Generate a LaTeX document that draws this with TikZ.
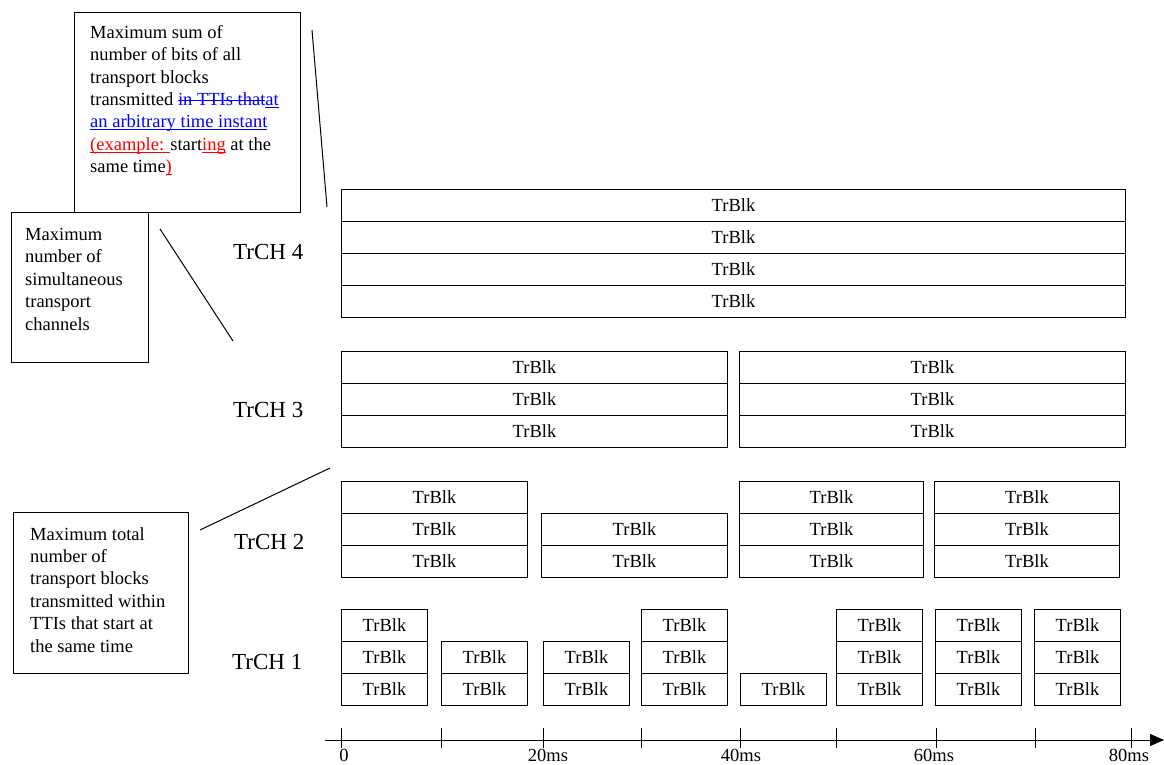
\documentclass[tikz,border=0pt]{standalone}
\usepackage{fontspec}
\setmainfont{Liberation Serif}
\usetikzlibrary{arrows.meta}
\newsavebox{\markbox}
\newcommand{\myul}[1]{\sbox{\markbox}{#1}\rlap{\usebox{\markbox}}\rule[-0.13em]{\wd\markbox}{0.06em}}
\newcommand{\mysout}[1]{\sbox{\markbox}{#1}\rlap{\usebox{\markbox}}\rule[0.26em]{\wd\markbox}{0.06em}}
\tikzset{
  blk/.style={draw, line width=1pt, anchor=north west, minimum height=32pt, inner sep=0pt, font=\fontsize{18.5}{22}\selectfont},
  callbox/.style={draw, line width=1pt, anchor=north west, inner sep=0pt},
  calltext/.style={anchor=north west, align=left, inner sep=0pt, font=\fontsize{18.5}{22.4}\selectfont},
  chlabel/.style={anchor=west, inner sep=0pt, font=\fontsize{23}{26}\selectfont},
  axlabel/.style={inner sep=0pt, font=\fontsize{18.5}{22}\selectfont},
  leader/.style={line width=1pt},
  tickmark/.style={line width=1pt},
}
\newcommand{\blkgroup}[5]{%
  \foreach \r in {1,...,#5}{%
    \node[blk, minimum width=#4pt] (#1-\r) at ({#2},{#3+32*(\r-1)}) {TrBlk};
  }%
}
\begin{document}
\begin{tikzpicture}[x=1pt,y=-1pt]
\useasboundingbox (0,0) rectangle (1164,765);

% callouts
\node[callbox, minimum width=226pt, minimum height=200pt] (c1) at (74,12) {};
\node[calltext] (c1t) at (90,25) {Maximum sum of\\
number of bits of all\\
transport blocks\\
transmitted \textcolor{blue}{\mysout{in TTIs that}\myul{at}}\\
\textcolor{blue}{\myul{an arbitrary time instant}}\\
\textcolor{red}{\myul{(example: }}start\textcolor{red}{\myul{ing}} at the\\
same time\textcolor{red}{\myul{)}}};

\node[callbox, minimum width=137pt, minimum height=150pt] (c2) at (11,212) {};
\node[calltext] (c2t) at (25,228) {Maximum\\
number of\\
simultaneous\\
transport\\
channels};

\node[callbox, minimum width=175pt, minimum height=161pt] (c3) at (13,512) {};
\node[calltext] (c3t) at (30,527) {Maximum total\\
number of\\
transport blocks\\
transmitted within\\
TTIs that start at\\
the same time};

% leader lines
\coordinate (l1a) at (312,30);  \coordinate (l1b) at (327,207);
\coordinate (l2a) at (160,229); \coordinate (l2b) at (233,341);
\coordinate (l3a) at (200,530); \coordinate (l3b) at (330,468);
\draw[leader] (l1a) -- (l1b);
\draw[leader] (l2a) -- (l2b);
\draw[leader] (l3a) -- (l3b);

% channel labels
\node[chlabel] (ch4) at (233,252) {TrCH 4};
\node[chlabel] (ch3) at (233,410) {TrCH 3};
\node[chlabel] (ch2) at (234,542) {TrCH 2};
\node[chlabel] (ch1) at (232,662) {TrCH 1};

% TrCH 4
\blkgroup{a}{341}{189}{784}{4}
% TrCH 3
\blkgroup{ba}{341}{351}{386}{3}
\blkgroup{bb}{739}{351}{386}{3}
% TrCH 2
\blkgroup{ca}{341}{481}{186}{3}
\blkgroup{cb}{541}{513}{186}{2}
\blkgroup{cc}{739}{481}{184}{3}
\blkgroup{cd}{934}{481}{185}{3}
% TrCH 1
\blkgroup{da}{341}{609}{86}{3}
\blkgroup{db}{441}{641}{86}{2}
\blkgroup{dc}{543}{641}{86}{2}
\blkgroup{dd}{641}{609}{86}{3}
\blkgroup{de}{740}{673}{86}{1}
\blkgroup{df}{836}{609}{86}{3}
\blkgroup{dg}{935}{609}{86}{3}
\blkgroup{dh}{1034}{609}{86}{3}

% time axis
\coordinate (ax0) at (325,740);
\coordinate (ax1) at (1164,740);
\draw[leader, -{Triangle[length=14pt,width=12pt]}] (ax0) -- (ax1);
\foreach \x in {341,441,543,641,740,836,936,1035,1131}{
  \draw[tickmark] (\x,728) -- (\x,748);
}
\node[axlabel] (t0) at (344,755) {0};
\node[axlabel] (t20) at (548,755) {20ms};
\node[axlabel] (t40) at (741,755) {40ms};
\node[axlabel] (t60) at (934,755) {60ms};
\node[axlabel] (t80) at (1129,755) {80ms};
\end{tikzpicture}
\end{document}
